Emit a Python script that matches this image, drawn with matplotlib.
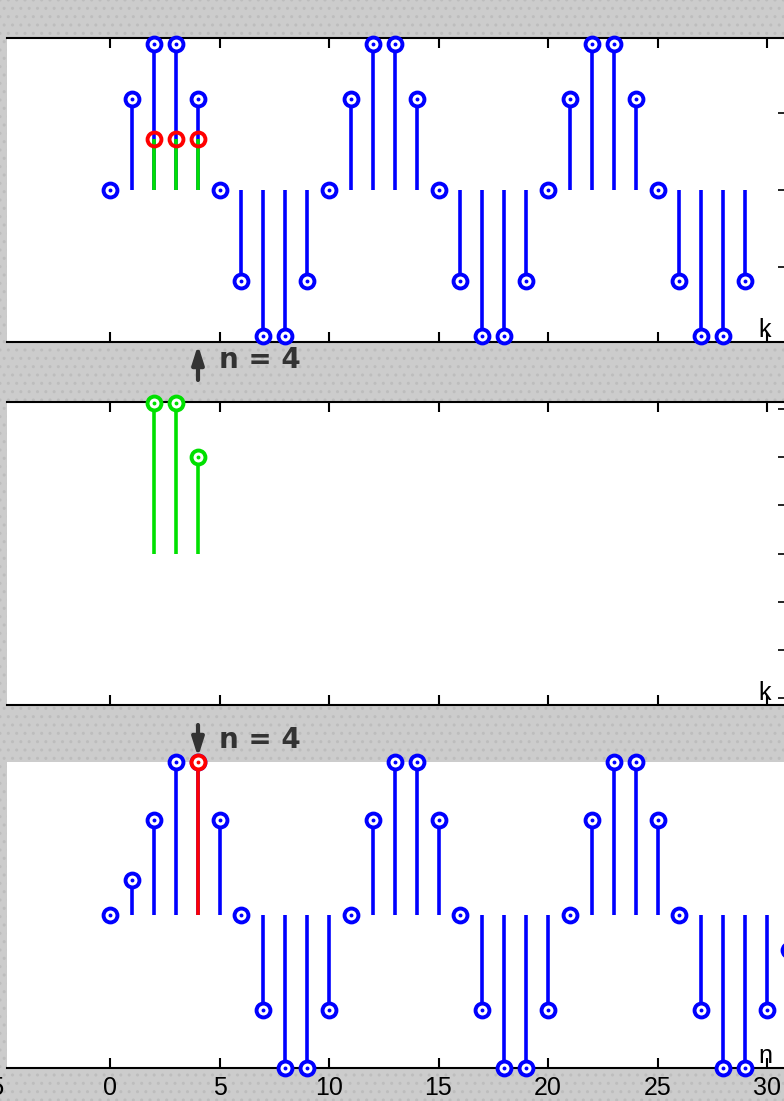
import matplotlib
matplotlib.use("Agg")
import matplotlib.pyplot as plt
import numpy as np
from matplotlib.patches import Rectangle, FancyArrowPatch

#------------------------------------------------
# data
k_x = list(range(30))
x_vals = [0, 0.59, 0.95, 0.95, 0.59, 0, -0.59, -0.95, -0.95, -0.59,
          0, 0.59, 0.95, 0.95, 0.59, 0, -0.59, -0.95, -0.95, -0.59,
          0, 0.59, 0.95, 0.95, 0.59, 0, -0.59, -0.95, -0.95, -0.59]

h_k = [2, 3, 4]
h_vals = [0.3125, 0.3125, 0.2]
prod_vals = [0.33, 0.33, 0.33]

n_y = list(range(32))
y_vals = [0, 0.23, 0.62, 1.0, 1.0, 0.62, 0, -0.62, -1.0, -1.0,
          -0.62, 0, 0.62, 1.0, 1.0, 0.62, 0, -0.62, -1.0, -1.0,
          -0.62, 0, 0.62, 1.0, 1.0, 0.62, 0, -0.62, -1.0, -1.0,
          -0.62, -0.23]
n_now = 4

x_ticks = [0, 5, 10, 15, 20, 25, 30]
top_yticks = [-1, -0.5, 0, 0.5, 1]
mid_yticks = [-0.3, -0.2, -0.1, 0, 0.1, 0.2, 0.3]
#------------------------------------------------
W, H = 784, 1101
BLUE = "#0000ff"
GREEN = "#00e000"
RED = "#ff0000"
DARK = "#333333"
narrow = ["Liberation Sans Narrow", "Liberation Sans", "DejaVu Sans"]

fig = plt.figure(figsize=(W / 100, H / 100), dpi=100)
fig.patch.set_facecolor("#cccccc")
fig.patches.append(Rectangle((0, 0), 1, 1, transform=fig.transFigure,
                             facecolor="#cccccc", edgecolor="#bdbdbd",
                             hatch="..", lw=0, zorder=-5))

def px_axes(top, bottom):
    left, right = 7, 792
    return fig.add_axes([left / W, (H - bottom) / H, (right - left) / W, (bottom - top) / H])

xlo = (7 - 110) / 21.9
xhi = (792 - 110) / 21.9

def stems(ax, xs, ys, color, z=2):
    ax.vlines(xs, 0, ys, color=color, lw=2.6, zorder=z, clip_on=False)
    ax.plot(xs, ys, "o", ms=10, mew=2.8, mec=color, mfc="white", zorder=z + 1, clip_on=False)
    ax.plot(xs, ys, "o", ms=2.8, mew=0, mfc=color, zorder=z + 2, clip_on=False)

def style(ax, top_on, bottom_on):
    ax.set_xticks(x_ticks)
    ax.set_xlim(xlo, xhi)
    for side in ["left", "right"]:
        ax.spines[side].set_visible(False)
    ax.spines["top"].set_visible(top_on)
    ax.spines["bottom"].set_visible(bottom_on)
    for side in ["top", "bottom"]:
        ax.spines[side].set_linewidth(1.5)
    ax.tick_params(axis="x", direction="in", length=7, width=1.5,
                   top=top_on, bottom=bottom_on, labelbottom=False)

#------------------------------------------------
ax1 = px_axes(38, 342)
style(ax1, True, True)
ax1.set_yticks(top_yticks)
ax1.set_ylim(-(342 - 190) / 153.5, (190 - 38) / 153.5)
stems(ax1, k_x, x_vals, BLUE)
ax1.vlines(h_k, 0, prod_vals, color=GREEN, lw=2.6, zorder=6)
ax1.plot(h_k, prod_vals, "o", ms=10, mew=2.8, mec=RED, mfc="none", zorder=7)
ax1.tick_params(axis="y", direction="in", length=10, width=1.2, left=False,
                right=True, labelleft=False, labelright=False)
ax1.text(29.6, ax1.get_ylim()[0], "k", fontsize=18, family=narrow,
         ha="left", va="bottom")

#------------------------------------------------
ax2 = px_axes(402, 705)
style(ax2, True, True)
ax2.set_yticks(mid_yticks)
ax2.set_ylim(-(705 - 553.5) / 483, (553.5 - 402) / 483)
stems(ax2, h_k, h_vals, GREEN)
ax2.tick_params(axis="y", direction="in", length=10, width=1.2, left=False,
                right=True, labelleft=False, labelright=False)
ax2.text(29.6, ax2.get_ylim()[0], "k", fontsize=18, family=narrow,
         ha="left", va="bottom")

#------------------------------------------------
ax3 = px_axes(762, 1068)
style(ax3, False, True)
ax3.set_yticks([])
ax3.set_ylim(-1, 1)
stems(ax3, n_y, y_vals, BLUE)
stems(ax3, [n_now], [y_vals[n_now]], RED, z=8)
ax3.tick_params(axis="x", labelbottom=True, pad=6, labelsize=18)
for lab in ax3.get_xticklabels():
    lab.set_family(narrow)
# the "-5" label is cut by the left edge of the picture
ax3.text(-4.8, -1.13, "-5", fontsize=18, family=narrow, ha="right", va="center",
         clip_on=False)
ax3.text(29.6, -1, "n", fontsize=18, family=narrow, ha="left", va="bottom")

#------------------------------------------------
# position markers between the panels
for y0, y1, ytxt in [(380, 345, 360), (725, 757, 740)]:
    fig.add_artist(FancyArrowPatch((198 / W, (H - y0) / H), (198 / W, (H - y1) / H),
                                   transform=fig.transFigure, color=DARK, lw=3,
                                   arrowstyle="-|>,head_width=3.5,head_length=11",
                                   mutation_scale=1, shrinkA=0, shrinkB=0))
    fig.text(219 / W, (H - ytxt) / H, "n = 4", fontsize=20, fontweight="bold",
             color=DARK, ha="left", va="center")

fig.savefig("out.png", dpi=100, facecolor=fig.get_facecolor())
